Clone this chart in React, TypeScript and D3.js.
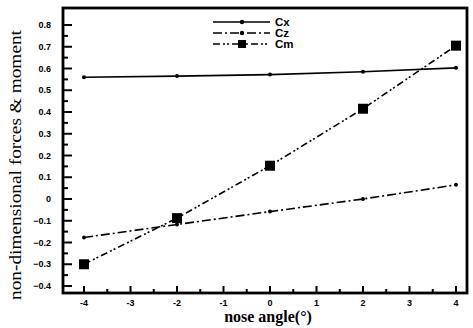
import React, { useEffect, useRef } from "react";
import * as d3 from "d3";

// Nose angle in degrees
const angles = [-4, -2, 0, 2, 4];
// Non-dimensional coefficients
const cx = [0.56, 0.565, 0.572, 0.585, 0.603];
const cz = [-0.177, -0.117, -0.058, 0.0, 0.065];
const cm = [-0.3, -0.088, 0.153, 0.415, 0.705];

const xTicks = [-4, -3, -2, -1, 0, 1, 2, 3, 4];
const yTicks = [0.8, 0.7, 0.6, 0.5, 0.4, 0.3, 0.2, 0.1, 0, -0.1, -0.2, -0.3, -0.4];
const seriesNames = ["Cx", "Cz", "Cm"];

const W = 473;
const H = 328;
const frame = { left: 63, right: 467, top: 8, bottom: 293 };

export default function App() {
  const ref = useRef<SVGSVGElement>(null);

  useEffect(() => {
    const svg = d3.select(ref.current);
    svg.selectAll("*").remove();

    const x = d3.scaleLinear().domain([-4, 4]).range([84, 456]);
    const y = d3.scaleLinear().domain([-0.4, 0.8]).range([286, 25]);

    const g = svg.append("g");

    // Frame
    g.append("rect")
      .attr("x", frame.left)
      .attr("y", frame.top)
      .attr("width", frame.right - frame.left)
      .attr("height", frame.bottom - frame.top)
      .attr("fill", "none")
      .attr("stroke", "#000")
      .attr("stroke-width", 2.8);

    // Y ticks (inward), major at labels, minor halfway
    yTicks.forEach((t) => {
      g.append("line")
        .attr("x1", frame.left)
        .attr("x2", frame.left + 9)
        .attr("y1", y(t))
        .attr("y2", y(t))
        .attr("stroke", "#000")
        .attr("stroke-width", 2);
      if (t > -0.4) {
        g.append("line")
          .attr("x1", frame.left)
          .attr("x2", frame.left + 5)
          .attr("y1", y(t - 0.05))
          .attr("y2", y(t - 0.05))
          .attr("stroke", "#000")
          .attr("stroke-width", 2);
      }
      g.append("text")
        .attr("x", 51)
        .attr("y", y(t))
        .attr("dy", "0.35em")
        .attr("text-anchor", "end")
        .attr("font-family", "Liberation Sans, Arial, sans-serif")
        .attr("font-weight", "bold")
        .attr("font-size", 9)
        .text(t === 0 ? "0" : d3.format(".1f")(t));
    });

    // X ticks (inward, upward)
    xTicks.forEach((t) => {
      g.append("line")
        .attr("x1", x(t))
        .attr("x2", x(t))
        .attr("y1", frame.bottom)
        .attr("y2", frame.bottom - 7)
        .attr("stroke", "#000")
        .attr("stroke-width", 2);
      if (t < 4) {
        g.append("line")
          .attr("x1", x(t + 0.5))
          .attr("x2", x(t + 0.5))
          .attr("y1", frame.bottom)
          .attr("y2", frame.bottom - 4)
          .attr("stroke", "#000")
          .attr("stroke-width", 2);
      }
      g.append("text")
        .attr("x", x(t))
        .attr("y", 306)
        .attr("text-anchor", "middle")
        .attr("font-family", "Liberation Sans, Arial, sans-serif")
        .attr("font-weight", "bold")
        .attr("font-size", 9)
        .text(String(t));
    });

    // Axis titles
    g.append("text")
      .attr("x", 268)
      .attr("y", 322)
      .attr("text-anchor", "middle")
      .attr("font-family", "Liberation Serif, Times New Roman, serif")
      .attr("font-size", 16)
      .attr("font-weight", "bold")
      .text("nose angle(°)");

    g.append("text")
      .attr("transform", "translate(21,165) rotate(-90)")
      .attr("text-anchor", "middle")
      .attr("font-family", "Liberation Serif, Times New Roman, serif")
      .attr("font-size", 16)
      .attr("textLength", 270)
      .attr("lengthAdjust", "spacingAndGlyphs")
      .text("non-dimensional forces & moment");

    const line = d3
      .line<number>()
      .x((_, i) => x(angles[i]))
      .y((d) => y(d));

    const styles = [
      { data: cx, dash: "none", width: 1.6 },
      { data: cz, dash: "9,3,2,3", width: 1.6 },
      { data: cm, dash: "7,3,2,2,2,3", width: 1.6 },
    ];

    styles.forEach((s, k) => {
      g.append("path")
        .attr("d", line(s.data) as string)
        .attr("fill", "none")
        .attr("stroke", "#000")
        .attr("stroke-width", s.width)
        .attr("stroke-dasharray", s.dash);
      s.data.forEach((v, i) => {
        if (k === 2) {
          g.append("rect")
            .attr("x", x(angles[i]) - 5)
            .attr("y", y(v) - 5)
            .attr("width", 10)
            .attr("height", 10)
            .attr("fill", "#000");
        } else {
          g.append("circle")
            .attr("cx", x(angles[i]))
            .attr("cy", y(v))
            .attr("r", 2)
            .attr("fill", "#000");
        }
      });
    });

    // Legend
    const legendY = [22, 33, 44];
    styles.forEach((s, k) => {
      g.append("line")
        .attr("x1", 213)
        .attr("x2", 270)
        .attr("y1", legendY[k])
        .attr("y2", legendY[k])
        .attr("stroke", "#000")
        .attr("stroke-width", 1.6)
        .attr("stroke-dasharray", s.dash);
      if (k === 2) {
        g.append("rect")
          .attr("x", 238)
          .attr("y", legendY[k] - 4)
          .attr("width", 8)
          .attr("height", 8)
          .attr("fill", "#000");
      } else {
        g.append("circle")
          .attr("cx", 242)
          .attr("cy", legendY[k])
          .attr("r", 2.2)
          .attr("fill", "#000");
      }
      g.append("text")
        .attr("x", 275)
        .attr("y", legendY[k])
        .attr("dy", "0.36em")
        .attr("font-family", "Liberation Sans, Arial, sans-serif")
        .attr("font-weight", "bold")
        .attr("font-size", 11.5)
        .text(seriesNames[k]);
    });
  }, []);

  return (
    <svg
      ref={ref}
      width={W}
      height={H}
      style={{ position: "absolute", left: 0, top: 0, background: "#fff" }}
    />
  );
}
